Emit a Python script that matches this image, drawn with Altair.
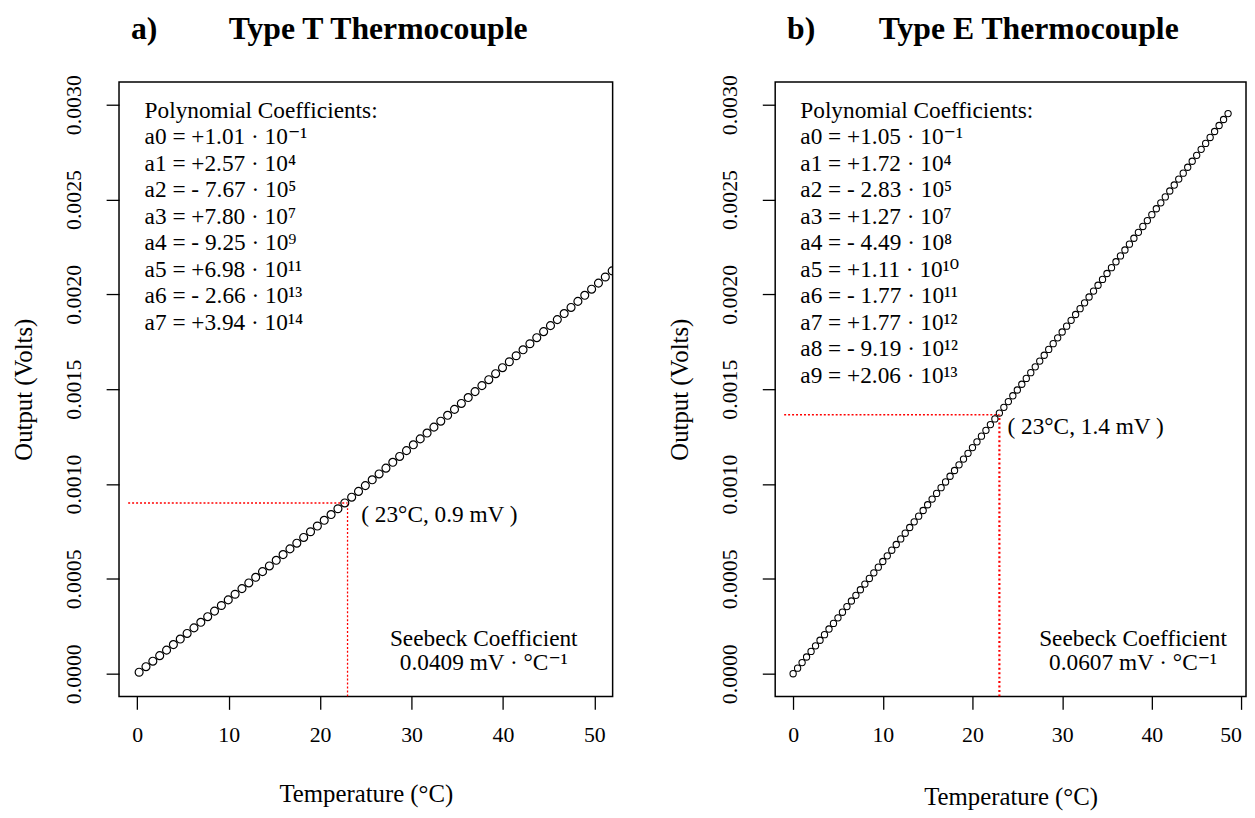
import altair as alt
import pandas as pd

FONT = "Liberation Serif, DejaVu Serif"

# ---- Type T thermocouple ----
t_temp = [0.2, 0.95, 1.7, 2.45, 3.2, 3.95, 4.7, 5.45, 6.2, 6.95, 7.7, 8.45, 9.2, 9.95,
          10.7, 11.45, 12.2, 12.95, 13.7, 14.45, 15.2, 15.95, 16.7, 17.45, 18.2, 18.95,
          19.7, 20.45, 21.2, 21.95, 22.7, 23.45, 24.2, 24.95, 25.7, 26.45, 27.2, 27.95,
          28.7, 29.45, 30.2, 30.95, 31.7, 32.45, 33.2, 33.95, 34.7, 35.45, 36.2, 36.95,
          37.7, 38.45, 39.2, 39.95, 40.7, 41.45, 42.2, 42.95, 43.7, 44.45, 45.2, 45.95,
          46.7, 47.45, 48.2, 48.95, 49.7, 50.45, 51.2, 51.95]
t_mv = [0.0077, 0.0368, 0.0659, 0.0951, 0.1243, 0.1535, 0.1828, 0.2122, 0.2416, 0.2710,
        0.3005, 0.3300, 0.3596, 0.3892, 0.4189, 0.4486, 0.4784, 0.5082, 0.5381, 0.5680,
        0.5979, 0.6280, 0.6580, 0.6881, 0.7183, 0.7484, 0.7787, 0.8090, 0.8393, 0.8697,
        0.9001, 0.9306, 0.9611, 0.9917, 1.0223, 1.0530, 1.0837, 1.1145, 1.1453, 1.1761,
        1.2070, 1.2380, 1.2690, 1.3000, 1.3311, 1.3623, 1.3935, 1.4247, 1.4560, 1.4873,
        1.5187, 1.5501, 1.5816, 1.6131, 1.6447, 1.6763, 1.7079, 1.7396, 1.7714, 1.8032,
        1.8351, 1.8669, 1.8989, 1.9309, 1.9629, 1.9950, 2.0271, 2.0593, 2.0915, 2.1238]

# ---- Type E thermocouple ----
e_temp = [0, 0.5, 1, 1.5, 2, 2.5, 3, 3.5, 4, 4.5, 5, 5.5, 6, 6.5, 7, 7.5, 8, 8.5, 9, 9.5,
          10, 10.5, 11, 11.5, 12, 12.5, 13, 13.5, 14, 14.5, 15, 15.5, 16, 16.5, 17, 17.5,
          18, 18.5, 19, 19.5, 20, 20.5, 21, 21.5, 22, 22.5, 23, 23.5, 24, 24.5, 25, 25.5,
          26, 26.5, 27, 27.5, 28, 28.5, 29, 29.5, 30, 30.5, 31, 31.5, 32, 32.5, 33, 33.5,
          34, 34.5, 35, 35.5, 36, 36.5, 37, 37.5, 38, 38.5, 39, 39.5, 40, 40.5, 41, 41.5,
          42, 42.5, 43, 43.5, 44, 44.5, 45, 45.5, 46, 46.5, 47, 47.5, 48, 48.5]
e_mv = [0.0000, 0.0293, 0.0587, 0.0881, 0.1176, 0.1470, 0.1765, 0.2060, 0.2355, 0.2650,
        0.2946, 0.3242, 0.3538, 0.3834, 0.4131, 0.4427, 0.4724, 0.5022, 0.5319, 0.5617,
        0.5915, 0.6213, 0.6511, 0.6810, 0.7108, 0.7407, 0.7707, 0.8006, 0.8306, 0.8606,
        0.8906, 0.9206, 0.9507, 0.9808, 1.0109, 1.0410, 1.0712, 1.1013, 1.1315, 1.1618,
        1.1920, 1.2223, 1.2525, 1.2829, 1.3132, 1.3435, 1.3739, 1.4043, 1.4347, 1.4652,
        1.4957, 1.5262, 1.5567, 1.5872, 1.6178, 1.6483, 1.6789, 1.7096, 1.7402, 1.7709,
        1.8016, 1.8323, 1.8630, 1.8938, 1.9246, 1.9554, 1.9862, 2.0171, 2.0480, 2.0789,
        2.1098, 2.1407, 2.1717, 2.2027, 2.2337, 2.2647, 2.2958, 2.3269, 2.3580, 2.3891,
        2.4203, 2.4514, 2.4826, 2.5138, 2.5451, 2.5763, 2.6076, 2.6389, 2.6703, 2.7016,
        2.7330, 2.7644, 2.7958, 2.8272, 2.8587, 2.8902, 2.9217, 2.9532]

t_coeff_lines = ["Polynomial Coefficients:",
                 "a0 = +1.01 · 10⁻¹",
                 "a1 = +2.57 · 10⁴",
                 "a2 = - 7.67 · 10⁵",
                 "a3 = +7.80 · 10⁷",
                 "a4 = - 9.25 · 10⁹",
                 "a5 = +6.98 · 10¹¹",
                 "a6 = - 2.66 · 10¹³",
                 "a7 = +3.94 · 10¹⁴"]
e_coeff_lines = ["Polynomial Coefficients:",
                 "a0 = +1.05 · 10⁻¹",
                 "a1 = +1.72 · 10⁴",
                 "a2 = - 2.83 · 10⁵",
                 "a3 = +1.27 · 10⁷",
                 "a4 = - 4.49 · 10⁸",
                 "a5 = +1.11 · 10¹⁰",
                 "a6 = - 1.77 · 10¹¹",
                 "a7 = +1.77 · 10¹²",
                 "a8 = - 9.19 · 10¹²",
                 "a9 = +2.06 · 10¹³"]
t_seebeck = ["Seebeck Coefficient", "0.0409 mV · °C⁻¹"]
e_seebeck = ["Seebeck Coefficient", "0.0607 mV · °C⁻¹"]

x_ticks = [0, 10, 20, 30, 40, 50]
y_ticks = [0, 0.0005, 0.001, 0.0015, 0.002, 0.0025, 0.003]
NB = "\u00a0"


def panel(temps, mv, label, name, n_sp, coeff, seebeck, ref_T, ref_V, ref_text,
          ref_text_xy, x_max, width, pt_size, pt_stroke, vline_w, vline_dash, flush,
          xtitle_pad):
    xs = alt.Scale(domain=[-2, x_max], nice=False, zero=False)
    ys = alt.Scale(domain=[-0.00012, 0.00312], nice=False, zero=False)
    xaxis = alt.Axis(values=x_ticks, title="Temperature (°C)", grid=False, domain=False,
                     tickSize=13, tickWidth=1.3, tickColor="black",
                     labelFontSize=22, labelPadding=15, labelFlush=flush,
                     labelColor="black", labelFont=FONT,
                     titleFontSize=25, titleFontWeight="normal", titlePadding=xtitle_pad,
                     titleColor="black", titleFont=FONT)
    yaxis = alt.Axis(values=y_ticks, format=".4f", title="Output (Volts)", grid=False,
                     domain=False, tickSize=13, tickWidth=1.3, tickColor="black",
                     labelFontSize=22, labelAngle=270, labelAlign="center",
                     labelBaseline="bottom", labelPadding=21, labelColor="black",
                     labelFont=FONT, titleFontSize=25, titleFontWeight="normal",
                     titlePadding=26, titleColor="black", titleFont=FONT)

    def X(f):
        return alt.X(f, type="quantitative", scale=xs, axis=xaxis)

    def Y(f):
        return alt.Y(f, type="quantitative", scale=ys, axis=yaxis)

    df = pd.DataFrame({"T": temps, "V": [v / 1000 for v in mv]})
    pts = alt.Chart(df).mark_point(shape="circle", filled=False, color="black",
                                   strokeWidth=pt_stroke, size=pt_size, opacity=1,
                                   clip=True).encode(x=X("T"), y=Y("V"))

    hdf = pd.DataFrame({"T": [-1], "T2": [ref_T], "V": [ref_V], "V2": [ref_V]})
    vdf = pd.DataFrame({"T": [ref_T], "T2": [ref_T], "V": [-0.00012], "V2": [ref_V]})
    hline = alt.Chart(hdf).mark_rule(color="#ff0000", strokeWidth=1.4,
                                     strokeDash=[2, 2], clip=True).encode(
        x=X("T"), x2="T2", y=Y("V"), y2="V2")
    vline = alt.Chart(vdf).mark_rule(color="#ff0000", strokeWidth=vline_w,
                                     strokeDash=vline_dash, clip=True).encode(
        x=X("T"), x2="T2", y=Y("V"), y2="V2")

    cdf = pd.DataFrame({"T": [0.8], "V": [0.00293]})
    ctext = alt.Chart(cdf).mark_text(text=coeff, align="left", baseline="alphabetic",
                                     fontSize=23.5, font=FONT, lineHeight=26.7,
                                     color="black").encode(x=X("T"), y=Y("V"))

    rdf = pd.DataFrame({"T": [ref_text_xy[0]], "V": [ref_text_xy[1]]})
    rtext = alt.Chart(rdf).mark_text(text=ref_text, align="left", baseline="alphabetic",
                                     fontSize=23.5, font=FONT,
                                     color="black").encode(x=X("T"), y=Y("V"))

    sdf = pd.DataFrame({"T": [37.9], "V": [0.000148]})
    stext = alt.Chart(sdf).mark_text(text=seebeck, align="center", baseline="alphabetic",
                                     fontSize=23.5, font=FONT, lineHeight=25,
                                     color="black").encode(x=X("T"), y=Y("V"))

    title = alt.TitleParams(text=label + NB * n_sp + name, anchor="start", frame="group",
                            dx=12, fontSize=32, font=FONT, fontWeight="bold",
                            color="black", offset=29)
    return alt.layer(hline, vline, pts, ctext, rtext, stext).properties(
        width=width, height=620, title=title)


pa = panel(t_temp, t_mv, "a)", "Type T Thermocouple", 9, t_coeff_lines, t_seebeck,
           23, 0.0009, "( 23°C, 0.9 mV )", (24.5, 0.000800), 52, 498, 64, 1.2,
           1.3, [2, 2], 1, 37)
pb = panel(e_temp, e_mv, "b)", "Type E Thermocouple", 8, e_coeff_lines, e_seebeck,
           23, 0.001365, "( 23°C, 1.4 mV )", (23.9, 0.001265), 50.5, 475, 40, 1.1,
           2.2, [2, 2.5], 6, 40)

chart = alt.hconcat(pa, pb, spacing=54).properties(
    padding={"left": 3, "top": 0, "right": 0, "bottom": 0},
    background="white",
).configure_view(stroke="black", strokeWidth=1.5)

chart.save("out.html", embed_options={"renderer": "svg", "actions": False})
